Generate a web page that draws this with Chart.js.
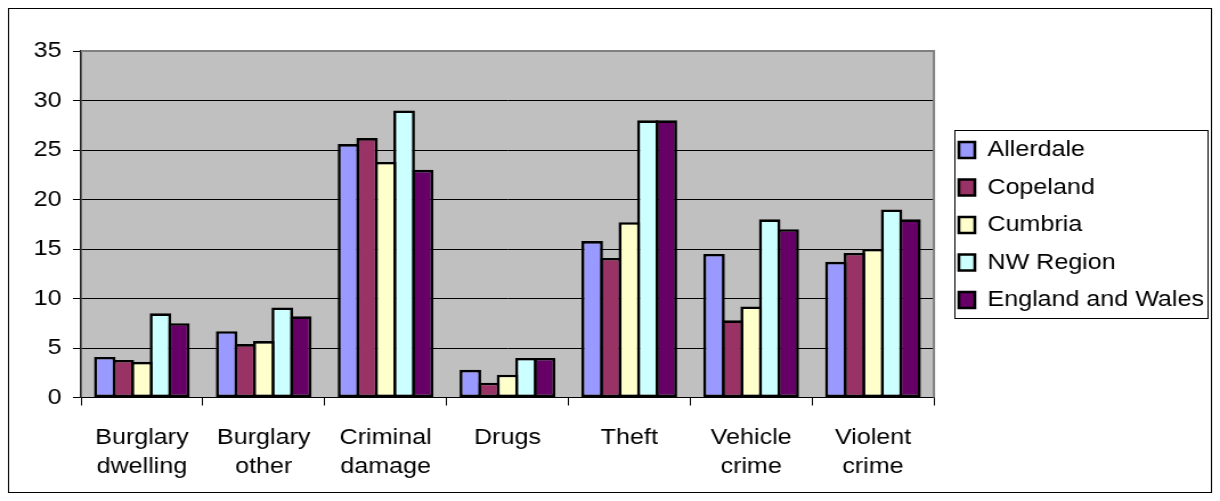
<!DOCTYPE html>
<html lang="en">
<head>
    <meta charset="UTF-8">
    <title>Crime rates - Cumbria comparison</title>
    <script src="https://cdn.jsdelivr.net/npm/chart.js"></script>
    <style>
        body { margin: 0; background: white; }
        /* the original picture is stretched sideways, so the canvas is too */
        #chart { display: block; width: 1220px; height: 501px; }
    </style>
</head>
<body>
    <canvas id="chart" width="1070" height="501" style="width:1220px;height:501px"></canvas>

    <script>
        const categories = [
            ['Burglary', 'dwelling'], ['Burglary', 'other'], ['Criminal', 'damage'],
            'Drugs', 'Theft', ['Vehicle', 'crime'], ['Violent', 'crime']
        ];
        const allerdale    = [4.1, 6.7, 25.6, 2.8, 15.8, 14.5, 13.7];
        const copeland     = [3.8, 5.4, 26.2, 1.5, 14.1, 7.8, 14.6];
        const cumbria      = [3.6, 5.7, 23.8, 2.3, 17.7, 9.2, 15.0];
        const nwRegion     = [8.5, 9.1, 29.0, 4.0, 28.0, 18.0, 19.0];
        const englandWales = [7.5, 8.2, 23.0, 4.0, 28.0, 17.0, 18.0];
        const yTicks = [0, 5, 10, 15, 20, 25, 30, 35];

        const font = { family: '"Liberation Sans", Arial, sans-serif', size: 22 };

        function series(label, data, color) {
            return {
                label: label, data: data, backgroundColor: color,
                borderColor: '#000', borderWidth: 2.6, borderSkipped: false,
                categoryPercentage: 0.761, barPercentage: 1.16
            };
        }

        // grey plot area, its grey top/right edge, outer frame and legend frame
        const decor = {
            id: 'decor',
            beforeDraw(chart) {
                const { ctx, chartArea: a } = chart;
                ctx.save();
                ctx.fillStyle = '#c0c0c0';
                ctx.fillRect(a.left, a.top, a.right - a.left, a.bottom - a.top);
                ctx.restore();
            },
            beforeDatasetsDraw(chart) {
                const { ctx, chartArea: a } = chart;
                ctx.save();
                ctx.strokeStyle = '#808080';
                ctx.lineWidth = 2;
                ctx.beginPath();
                ctx.moveTo(a.left, a.top);
                ctx.lineTo(a.right, a.top);
                ctx.lineTo(a.right, a.bottom);
                ctx.stroke();
                ctx.restore();
            },
            afterLayout(chart) {
                // move the legend next to the plot, as in the original
                const lg = chart.legend;
                lg.left = 825.5; lg.width = 240; lg.right = lg.left + lg.width;
                lg.top = 51; lg.bottom = 399; lg.height = 348;
            },
            afterDraw(chart) {
                const ctx = chart.ctx;
                const hb = chart.legend.legendHitBoxes;
                ctx.save();
                ctx.strokeStyle = '#000';
                ctx.lineWidth = 1;
                ctx.strokeRect(7.5, 8.5, 1055, 484);
                const left = hb[0].left - 4.3;
                const top = hb[0].top - 9;
                const right = Math.max(...hb.map(h => h.left + h.width)) + 3;
                const bottom = hb[hb.length - 1].top + hb[hb.length - 1].height + 7;
                ctx.strokeRect(Math.round(left) + 0.5, Math.round(top) + 0.5,
                    Math.round(right - left), Math.round(bottom - top));
                ctx.restore();
            }
        };

        new Chart(document.getElementById('chart'), {
            type: 'bar',
            data: {
                labels: categories,
                datasets: [
                    series('Allerdale', allerdale, '#9999ff'),
                    series('Copeland', copeland, '#993366'),
                    series('Cumbria', cumbria, '#ffffcc'),
                    series('NW Region', nwRegion, '#ccffff'),
                    series('England and Wales', englandWales, '#660066')
                ]
            },
            options: {
                responsive: false,
                devicePixelRatio: 1,
                animation: false,
                layout: { padding: { left: 10, top: 51, right: 50.9, bottom: 10 } },
                plugins: {
                    tooltip: { enabled: false },
                    legend: {
                        position: 'right',
                        maxWidth: 200,
                        labels: {
                            font: font, color: '#000',
                            boxWidth: 14, boxHeight: 16, padding: 15.5
                        }
                    }
                },
                scales: {
                    x: {
                        grid: { drawOnChartArea: false, color: '#000', tickLength: 8, offset: true },
                        border: { color: '#000', width: 1 },
                        ticks: { font: { ...font, lineHeight: 1.32 }, color: '#000', padding: 17.5, maxRotation: 0, autoSkip: false },
                        afterFit(s) { s.height = 93.5; }
                    },
                    y: {
                        min: 0, max: 35,
                        afterBuildTicks(s) { s.ticks = yTicks.map(v => ({ value: v })); },
                        grid: {
                            color: c => c.tick && c.tick.value === 35 ? 'rgba(0,0,0,0)' : '#000',
                            tickColor: '#000', tickLength: 7, lineWidth: 1
                        },
                        border: { color: '#222', width: 1.6 },
                        ticks: { font: font, color: '#000', padding: 10 },
                        afterFit(s) { s.width = 61; }
                    }
                }
            },
            plugins: [decor]
        });
    </script>
</body>
</html>
